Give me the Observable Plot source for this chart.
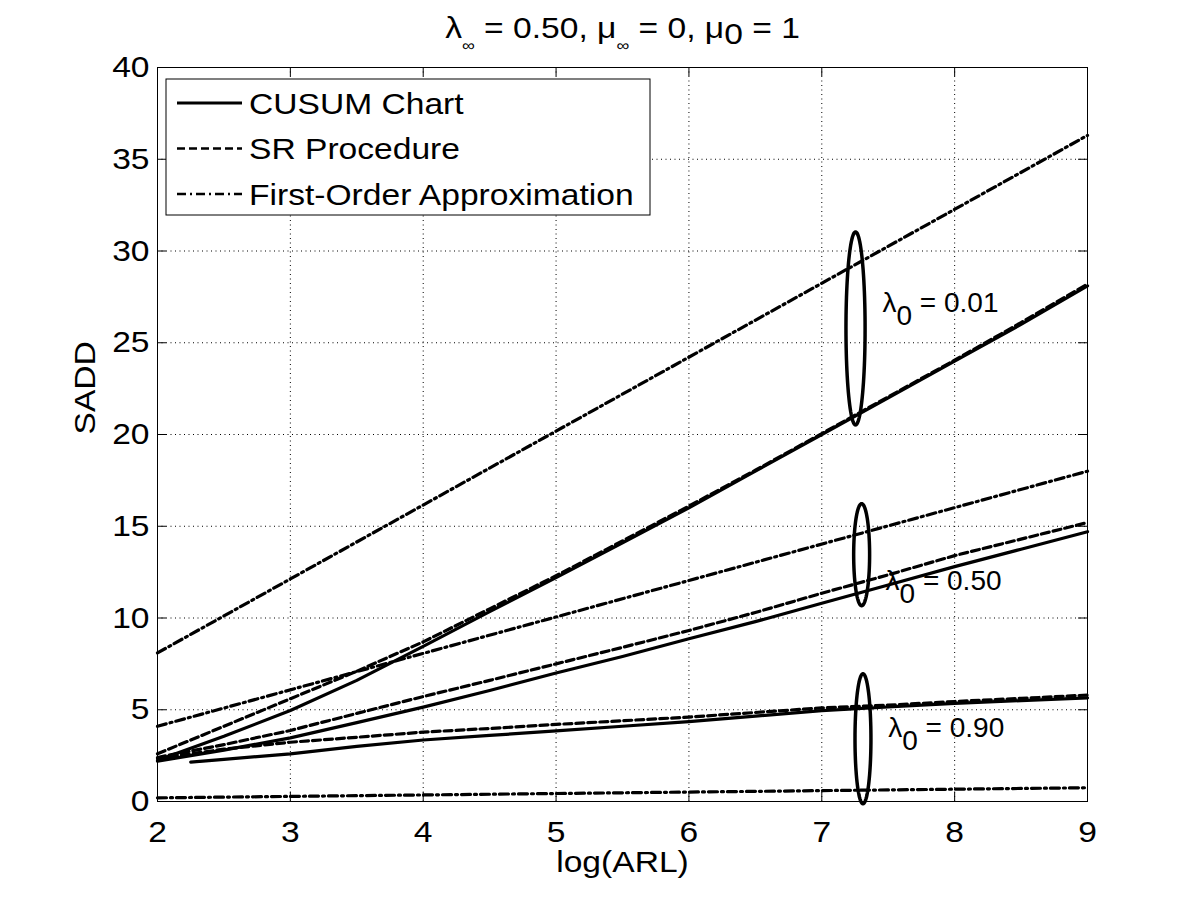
<!DOCTYPE html>
<html>
<head>
<meta charset="utf-8">
<script src="https://cdn.jsdelivr.net/npm/d3@7"></script>
<script src="https://cdn.jsdelivr.net/npm/@observablehq/plot@0.6"></script>
<style>
  html, body { margin: 0; padding: 0; background: #fff; }
  #chart { width: 1200px; height: 900px; }
</style>
</head>
<body>
<div id="chart"></div>
<script>
// ---- data: SADD versus log(ARL) ----
const logARL = [2, 2.5, 3, 3.5, 4, 4.5, 5, 5.5, 6, 6.5, 7, 7.5, 8, 8.5, 9];
const logARL090 = [2.25, 2.5, 3, 3.5, 4, 4.5, 5, 5.5, 6, 6.5, 7, 7.5, 8, 8.5, 9];

// lambda_0 = 0.01
const cusum001 = [2.25, 3.55, 4.96, 6.6, 8.45, 10.35, 12.2, 14.1, 16.0, 18.0, 20.0, 22.0, 24.0, 26.0, 28.1];
const sr001    = [2.6, 4.1, 5.6, 7.1, 8.7, 10.5, 12.3, 14.2, 16.1, 18.05, 20.05, 22.05, 24.05, 26.1, 28.2];
// lambda_0 = 0.50
const cusum050 = [2.2, 2.8, 3.47, 4.3, 5.14, 6.05, 7.0, 7.9, 8.87, 9.8, 10.8, 11.8, 12.8, 13.75, 14.7];
const sr050    = [2.4, 3.1, 3.87, 4.8, 5.72, 6.6, 7.5, 8.4, 9.32, 10.3, 11.35, 12.35, 13.4, 14.3, 15.2];
// lambda_0 = 0.90 (CUSUM curve starts at log(ARL) = 2.25)
const cusum090 = [2.15, 2.3, 2.6, 3.0, 3.35, 3.6, 3.85, 4.1, 4.35, 4.65, 4.95, 5.15, 5.35, 5.5, 5.65];
const sr090    = [2.35, 2.85, 3.23, 3.5, 3.78, 3.98, 4.2, 4.4, 4.6, 4.85, 5.1, 5.25, 5.45, 5.62, 5.8];

// first-order approximations (straight lines)
const approxX   = [2, 9];
const approx001 = [8.1, 36.3];
const approx050 = [4.1, 18.0];
const approx090 = [0.2, 0.75];

// group annotations: ellipses around the curves and their labels
const groupNames = ["λ_0 = 0.01", "λ_0 = 0.50", "λ_0 = 0.90"];
const ellipseCx  = [7.254, 7.30, 7.31];
const ellipseCy  = [25.78, 13.45, 3.42];
const ellipseRx  = [0.072, 0.06, 0.06];
const ellipseRy  = [5.26, 2.78, 3.54];
const labelX     = [7.457, 7.48, 7.50];
const labelY     = [26.65, 11.5, 3.54];

const xTicks = [2, 3, 4, 5, 6, 7, 8, 9];
const yTicks = [0, 5, 10, 15, 20, 25, 30, 35, 40];

const legendNames = ["CUSUM Chart", "SR Procedure", "First-Order Approximation"];
const titleText = "λ_∞ = 0.50, μ_∞ = 0, μ_0 = 1";

// ---- layout ----
const W = 1200, H = 900;
const mL = 157, mR = 113, mT = 67, mB = 99;
const plotW = W - mL - mR;
const plotH = H - mT - mB;
const DASH = "8,4";
const DASHDOT = "9,4,2,4";
const LW = 3.2;

// ---- long-format rows ----
const toRows = (xs, ys, name) => xs.map((x, i) => ({x, y: ys[i], name}));
const solidRows = [
  ...toRows(logARL, cusum001, "c001"),
  ...toRows(logARL, cusum050, "c050"),
  ...toRows(logARL090, cusum090, "c090")
];
const dashedRows = [
  ...toRows(logARL, sr001, "s001"),
  ...toRows(logARL, sr050, "s050"),
  ...toRows(logARL, sr090, "s090")
];
const dashdotRows = [
  ...toRows(approxX, approx001, "a001"),
  ...toRows(approxX, approx050, "a050"),
  ...toRows(approxX, approx090, "a090")
];
const ellipseRows = ellipseCx.flatMap((cx, k) =>
  d3.range(0, 97).map(j => {
    const t = (j / 96) * 2 * Math.PI;
    return {k, x: cx + ellipseRx[k] * Math.cos(t), y: ellipseCy[k] + ellipseRy[k] * Math.sin(t)};
  })
);
const labelRows = groupNames.map((t, i) => ({t, x: labelX[i], y: labelY[i]}));

const chart = Plot.plot({
  width: W,
  height: H,
  marginLeft: mL,
  marginRight: mR,
  marginTop: mT,
  marginBottom: mB,
  style: {
    fontFamily: "'Liberation Sans', Arial, Helvetica, sans-serif",
    fontSize: "30px",
    background: "white",
    color: "black",
    overflow: "visible"
  },
  x: {domain: [2, 9]},
  y: {domain: [0, 40]},
  marks: [
    // dotted grid
    Plot.ruleX(xTicks.slice(1, -1), {stroke: "black", strokeWidth: 1, strokeDasharray: "1,3.5"}),
    Plot.ruleY(yTicks.slice(1, -1), {stroke: "black", strokeWidth: 1, strokeDasharray: "1,3.5"}),

    // curves
    Plot.line(dashdotRows, {x: "x", y: "y", z: "name", stroke: "black", strokeWidth: LW, strokeDasharray: DASHDOT}),
    Plot.line(dashedRows, {x: "x", y: "y", z: "name", stroke: "black", strokeWidth: LW, strokeDasharray: DASH}),
    Plot.line(solidRows, {x: "x", y: "y", z: "name", stroke: "black", strokeWidth: LW}),

    // group ellipses and labels
    Plot.line(ellipseRows, {x: "x", y: "y", z: "k", stroke: "black", strokeWidth: 3.5}),
    Plot.text(labelRows, {x: "x", y: "y", text: "t", textAnchor: "start", lineAnchor: "bottom", fontSize: 28, fill: "black"}),

    // axes box and inward ticks on all four sides
    Plot.frame({stroke: "black", strokeWidth: 1}),
    Plot.ruleX(xTicks, {stroke: "black", insetTop: plotH - 9}),
    Plot.ruleX(xTicks, {stroke: "black", insetBottom: plotH - 9}),
    Plot.ruleY(yTicks, {stroke: "black", insetRight: plotW - 9}),
    Plot.ruleY(yTicks, {stroke: "black", insetLeft: plotW - 9}),

    // tick labels
    Plot.axisX(xTicks, {tickSize: 0, tickPadding: 19, label: null, tickFormat: d => String(d)}),
    Plot.axisY(yTicks, {tickSize: 0, tickPadding: 8, label: null, tickFormat: d => String(d)}),

    // axis titles and chart title
    Plot.text(["SADD"], {frameAnchor: "left", rotate: -90, dx: -72, lineAnchor: "middle", fontSize: 30}),
    Plot.text(["log(ARL)"], {frameAnchor: "bottom", dy: 61, lineAnchor: "middle", fontSize: 30}),
    Plot.text([titleText], {frameAnchor: "top", dy: -30, lineAnchor: "bottom", fontSize: 30})
  ]
});

document.getElementById("chart").appendChild(chart);

// ---- text post-processing: subscripts and the wide Helvetica look ----
const NS = "http://www.w3.org/2000/svg";
function subscriptify(el, defaultShift) {
  const s = el.textContent;
  if (!s.includes("_")) return false;
  el.textContent = "";
  const parts = s.split(/_(.)/);
  let pending = 0;
  parts.forEach((p, i) => {
    if (!p) return;
    const ts = document.createElementNS(NS, "tspan");
    ts.textContent = p;
    if (i % 2 === 1) {
      const small = p === "∞";
      const shift = small ? 13 : defaultShift;
      if (small) ts.setAttribute("font-size", "16");
      ts.setAttribute("dy", String(shift - pending));
      pending = shift;
    } else if (pending) {
      ts.setAttribute("dy", String(-pending));
      pending = 0;
    }
    el.appendChild(ts);
  });
  return true;
}

const svg = d3.select(chart);
svg.selectAll("text").each(function () {
  const isGroupLabel = this.textContent.startsWith("λ_0");
  subscriptify(this, isGroupLabel ? 13 : 6);
  if (!isGroupLabel) {
    const tr = this.getAttribute("transform") || "";
    this.setAttribute("transform", tr + " scale(1.12,1)");
  }
});

// ---- legend box (top-left, inside the axes) ----
const lg = svg.append("g")
  .attr("transform", `translate(${mL + 9},${mT + 12})`)
  .attr("text-anchor", "start");
lg.append("rect")
  .attr("width", 484).attr("height", 136)
  .attr("fill", "white").attr("stroke", "black").attr("stroke-width", 1);
const legendDash = [null, DASH, DASHDOT];
legendNames.forEach((name, i) => {
  const yy = 24 + i * 45.5;
  const ln = lg.append("line")
    .attr("x1", 11).attr("x2", 76).attr("y1", yy).attr("y2", yy)
    .attr("stroke", "black").attr("stroke-width", i === 0 ? LW : 2.5);
  if (legendDash[i]) ln.attr("stroke-dasharray", legendDash[i]);
  lg.append("text")
    .attr("transform", `translate(83,${yy}) scale(1.12,1)`)
    .attr("text-anchor", "start")
    .attr("dy", "0.36em")
    .attr("font-size", 30)
    .attr("fill", "black")
    .text(name);
});
</script>
</body>
</html>
